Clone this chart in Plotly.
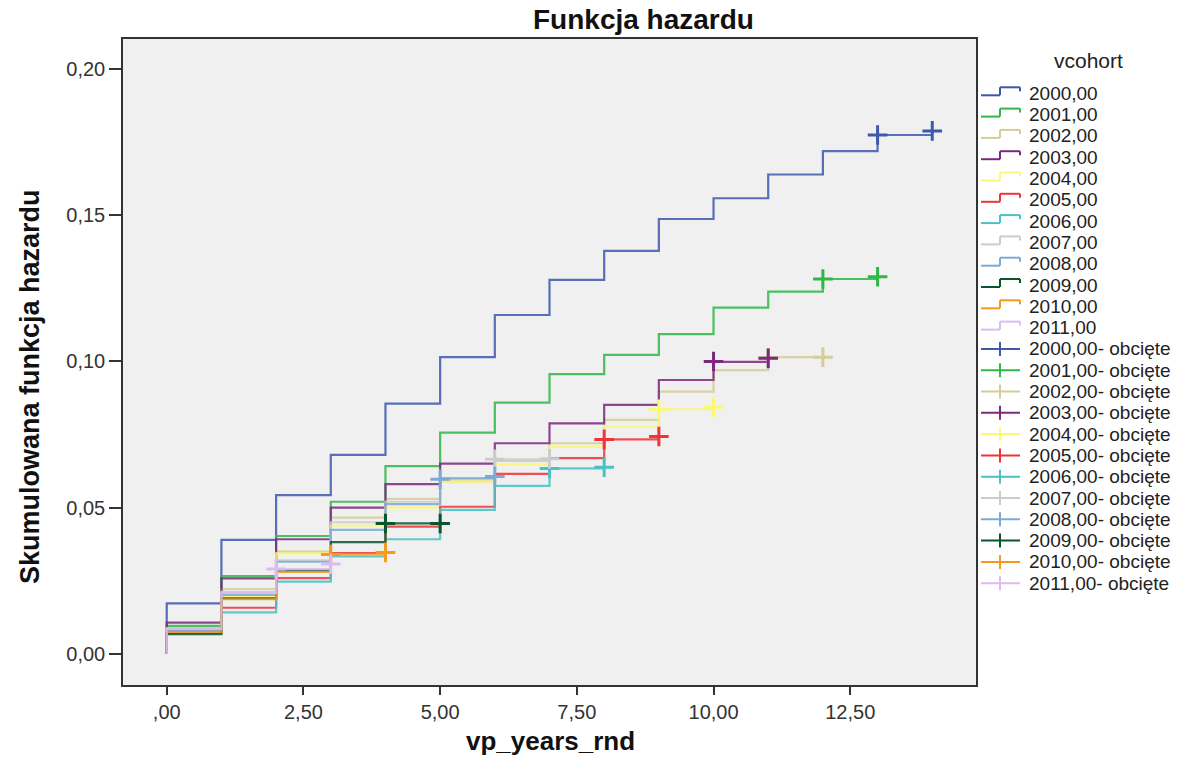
import plotly.graph_objects as go

# ---------------- data ----------------
cohorts = ["2000,00", "2001,00", "2002,00", "2003,00", "2004,00", "2005,00",
           "2006,00", "2007,00", "2008,00", "2009,00", "2010,00", "2011,00"]
colors = ["#3E58AC", "#2EB848", "#D3CE97", "#7C287D", "#FBF873", "#EF3338",
          "#48C2C5", "#CCCCCC", "#7AAAD5", "#0A562C", "#F8981D", "#DDBAF1"]

# cumulative hazard level on each one-year interval starting at t = 0
H2000 = [0.0173, 0.0390, 0.0543, 0.0680, 0.0855, 0.1014, 0.1158, 0.1278,
         0.1377, 0.1486, 0.1557, 0.1638, 0.1718, 0.1773]
H2001 = [0.0096, 0.0266, 0.0403, 0.0520, 0.0642, 0.0756, 0.0859, 0.0956,
         0.1022, 0.1093, 0.1183, 0.1238, 0.1281]
H2002 = [0.0088, 0.0222, 0.0350, 0.0466, 0.0530, 0.0590, 0.0660, 0.0720,
         0.0800, 0.0896, 0.0970, 0.1014]
H2003 = [0.0107, 0.0258, 0.0392, 0.0500, 0.0580, 0.0650, 0.0720, 0.0788,
         0.0851, 0.0936, 0.0998]
H2004 = [0.0085, 0.0195, 0.0344, 0.0438, 0.0500, 0.0589, 0.0648, 0.0708,
         0.0777, 0.0836]
H2005 = [0.0079, 0.0158, 0.0259, 0.0345, 0.0435, 0.0503, 0.0615, 0.0669,
         0.0733]
H2006 = [0.0072, 0.0142, 0.0247, 0.0333, 0.0392, 0.0492, 0.0574, 0.0634]
H2007 = [0.0088, 0.0212, 0.0320, 0.0450, 0.0520, 0.0600, 0.0665]
H2008 = [0.0082, 0.0202, 0.0315, 0.0424, 0.0512, 0.0600]
H2009 = [0.0068, 0.0190, 0.0285, 0.0382, 0.0446]
H2010 = [0.0075, 0.0187, 0.0280, 0.0340]
H2011 = [0.0085, 0.0209, 0.0290]

# censored observations ("obcięte")
C2000_x = [13, 14]; C2000_y = [0.1773, 0.1787]
C2001_x = [12, 13]; C2001_y = [0.1281, 0.1289]
C2002_x = [11, 12]; C2002_y = [0.1012, 0.1014]
C2003_x = [10, 11]; C2003_y = [0.0999, 0.1010]
C2004_x = [9, 10];  C2004_y = [0.0836, 0.0843]
C2005_x = [8, 9];   C2005_y = [0.0733, 0.0743]
C2006_x = [7, 8];   C2006_y = [0.0634, 0.0638]
C2007_x = [6, 7];   C2007_y = [0.0665, 0.0667]
C2008_x = [5, 6];   C2008_y = [0.0597, 0.0606]
C2009_x = [4, 5];   C2009_y = [0.0446, 0.0446]
C2010_x = [3, 4];   C2010_y = [0.0340, 0.0347]
C2011_x = [2, 3];   C2011_y = [0.0290, 0.0307]

x_tickvals = [0, 2.5, 5, 7.5, 10, 12.5]
x_ticktext = [",00", "2,50", "5,00", "7,50", "10,00", "12,50"]
y_tickvals = [0, 0.05, 0.10, 0.15, 0.20]
y_ticktext = ["0,00", "0,05", "0,10", "0,15", "0,20"]

series = [H2000, H2001, H2002, H2003, H2004, H2005, H2006, H2007, H2008,
          H2009, H2010, H2011]
cens_x = [C2000_x, C2001_x, C2002_x, C2003_x, C2004_x, C2005_x, C2006_x,
          C2007_x, C2008_x, C2009_x, C2010_x, C2011_x]
cens_y = [C2000_y, C2001_y, C2002_y, C2003_y, C2004_y, C2005_y, C2006_y,
          C2007_y, C2008_y, C2009_y, C2010_y, C2011_y]

fig = go.Figure()

for name, col, h, cx in zip(cohorts, colors, series, cens_x):
    xs = [0] + list(range(len(h))) + [cx[-1]]
    ys = [0] + h + [h[-1]]
    fig.add_trace(go.Scatter(x=xs, y=ys, mode="lines", line_shape="hv",
                             line=dict(color=col, width=2.2), name=name,
                             opacity=0.85, showlegend=False))

for name, col, cx, cy in zip(cohorts, colors, cens_x, cens_y):
    fig.add_trace(go.Scatter(x=cx, y=cy, mode="markers",
                             marker=dict(symbol="cross-thin", size=14,
                                         line=dict(color=col, width=3)),
                             name=name + "- obcięte", showlegend=False))

# ---------------- layout ----------------
W, H = 1200, 759
L, R, T, B = 123, 224, 39, 74
pw, ph = W - L - R, H - T - B


def px(xp):
    return (xp - L) / pw


def py(yp):
    return (H - B - yp) / ph


FONT = "Liberation Sans, Arial, sans-serif"
axis_common = dict(showgrid=False, zeroline=False, showline=True,
                   linecolor="#333333", linewidth=1.5, mirror=True,
                   ticks="outside", tickwidth=2, tickcolor="#333333",
                   tickfont=dict(family=FONT, size=20, color="#333333"))


def note(text, xp, yp, size, color="#111111", xanchor="center", angle=0):
    return dict(text=text, x=px(xp), y=py(yp), xref="paper", yref="paper",
                xanchor=xanchor, yanchor="middle", showarrow=False,
                textangle=angle, font=dict(family=FONT, size=size, color=color))


annotations = [
    note("<b>Funkcja hazardu</b>", 643, 19, 28),
    note("<b>vp_years_rnd</b>", 550, 741, 26),
    note("<b>Skumulowana funkcja hazardu</b>", 30, 387, 27, angle=-90),
    note("vcohort", 1088, 61, 21, color="#222222"),
]

shapes = []
labels = cohorts + [c + "- obcięte" for c in cohorts]
for i, lab in enumerate(labels):
    yc = 93.3 + i * 21.3
    col = colors[i % 12]
    annotations.append(note(lab, 1027, yc, 19, color="#222222", xanchor="left"))
    if i < 12:
        segs = [((981, yc + 2), (1000, yc + 2)), ((1000, yc + 2), (1000, yc - 6)),
                ((1000, yc - 6), (1020, yc - 6)), ((1020, yc - 6), (1020, yc - 2))]
    else:
        segs = [((981, yc), (1020, yc)), ((1000, yc - 7), (1000, yc + 7))]
    for (x0, y0), (x1, y1) in segs:
        shapes.append(dict(type="line", xref="paper", yref="paper",
                           x0=px(x0), y0=py(y0), x1=px(x1), y1=py(y1),
                           line=dict(color=col, width=2)))

fig.update_layout(
    width=W, height=H,
    margin=dict(l=L, r=R, t=T, b=B),
    paper_bgcolor="white", plot_bgcolor="#F0F0F0",
    showlegend=False,
    xaxis=dict(range=[-0.80, 14.80], tickvals=x_tickvals, ticktext=x_ticktext,
               ticklen=8, **axis_common),
    yaxis=dict(range=[-0.0106, 0.2101], tickvals=y_tickvals,
               ticktext=y_ticktext, ticklen=12, **axis_common),
    annotations=annotations,
    shapes=shapes,
)

fig.write_html("out.html", config={"displayModeBar": False},
               post_script="document.body.style.margin='0';")
